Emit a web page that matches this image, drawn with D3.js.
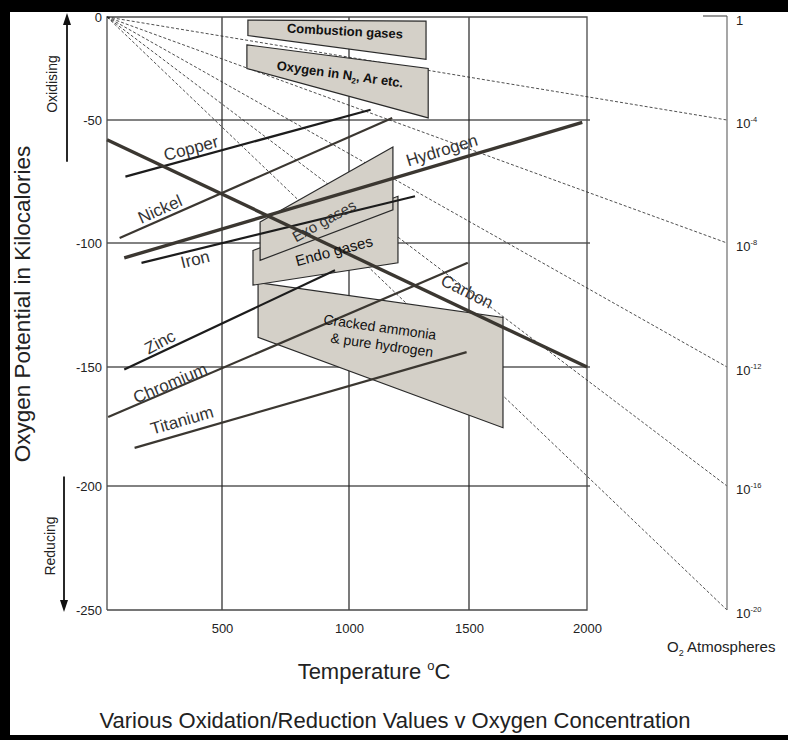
<!DOCTYPE html>
<html>
<head>
<meta charset="utf-8">
<script src="https://cdn.jsdelivr.net/npm/d3@7"></script>
<style>
  body { margin: 0; background: #fff; }
  svg { display: block; font-family: Arial, 'Liberation Sans', sans-serif; }
</style>
</head>
<body>
<div id="chart"></div>
<script>
// temperature (degC) and oxygen potential (kcal) ticks
const temperatureTicks = [0, 500, 1000, 1500, 2000];
const potentialTicks = [0, -50, -100, -150, -200, -250];
// O2 partial pressure exponents on the right hand scale (10^n atm)
const o2Exponents = [0, -4, -8, -12, -16, -20];

// metal / oxide lines: [temperature, kcal] at each end
const elementNames = ['Copper', 'Nickel', 'Hydrogen', 'Iron', 'Carbon', 'Zinc', 'Chromium', 'Titanium'];
const elementStart = [[80, -73], [55, -98], [75, -106], [150, -108], [0, -58], [75, -151], [5, -171], [120, -184]];
const elementEnd = [[1090, -45], [1180, -49], [1980, -51], [1275, -81], [2000, -150], [945, -111], [1495, -108], [1490, -144]];

// furnace atmosphere bands (corners in temperature, kcal)
const atmosphereNames = ['Combustion gases', 'Oxygen in N2, Ar etc.', 'Cracked ammonia & pure hydrogen', 'Endo gases', 'Exo gases'];
const atmosphereBands = [
  [[602, -1.5], [1321, -2], [1321, -20.5], [602, -9]],
  [[598, -13.5], [1330, -25], [1330, -49], [598, -25]],
  [[642, -116], [1644, -130], [1644, -175.5], [642, -138]],
  [[622, -103], [1204, -81], [1204, -108], [622, -117]],
  [[650, -91.5], [1183, -61], [1183, -86.5], [650, -107]],
];

const SETTING = {
  width: 788,
  height: 740,
  rightAxisX: 727,
  ink: '#3b3731',
  band: '#d4d0c8',
};

// where the labels sit along the lines, in data units, with their tilt
const LINE_LABELS = {
  Copper: [365, -61.4, -15],
  Nickel: [230, -86.2, -24],
  Iron: [383, -106.5, -14],
  Hydrogen: [1387, -62.2, -17],
  Carbon: [1492, -119.5, 26],
  Zinc: [230, -139.9, -28],
  Chromium: [274, -156.7, -23],
  Titanium: [326, -172.3, -16],
};

const svg = d3.select('#chart').append('svg')
  .attr('width', SETTING.width)
  .attr('height', SETTING.height);

// hand drawn original: tick spacing is not even, so use piecewise scales
const x = d3.scaleLinear().domain(temperatureTicks).range([107, 222, 349, 469, 587]);
const y = d3.scaleLinear().domain(potentialTicks).range([17, 120, 243, 367, 486, 610]);
const o2 = d3.scaleLinear().domain([0, -20]).range([0, -250]);

const xMin = x(0);
const xMax = x(2000);
const yTop = y(0);
const yBottom = y(-250);

// black frame round the picture
svg.append('rect').attr('x', 0).attr('y', 0).attr('width', SETTING.width).attr('height', 12).attr('fill', '#000');
svg.append('rect').attr('x', 0).attr('y', 0).attr('width', 10).attr('height', SETTING.height).attr('fill', '#000');
svg.append('rect').attr('x', 0).attr('y', 735).attr('width', SETTING.width).attr('height', 5).attr('fill', '#000');

// grid
const grid = svg.append('g');
grid.selectAll('line.h')
  .data(potentialTicks.slice(1, -1))
  .enter()
  .append('line')
  .attr('x1', xMin)
  .attr('x2', xMax + 3)
  .attr('y1', (d) => y(d))
  .attr('y2', (d) => y(d))
  .attr('stroke', '#595959')
  .attr('stroke-width', 1.3);

grid.selectAll('line.v')
  .data(temperatureTicks.slice(1, -1))
  .enter()
  .append('line')
  .attr('x1', (d) => x(d))
  .attr('x2', (d) => x(d))
  .attr('y1', yTop)
  .attr('y2', yBottom)
  .attr('stroke', '#222')
  .attr('stroke-width', 1.2);

// plot frame
grid.append('path')
  .attr('d', `M${xMin},${yBottom}V${yTop}H${xMax}V${yBottom}H${xMin}`)
  .attr('fill', 'none')
  .attr('stroke', '#4a4a4a')
  .attr('stroke-width', 1.3);

// constant pO2 lines fan out from the origin to the right hand scale
svg.append('g')
  .selectAll('line')
  .data(o2Exponents.slice(1))
  .enter()
  .append('line')
  .attr('x1', x(0))
  .attr('y1', y(0))
  .attr('x2', SETTING.rightAxisX)
  .attr('y2', (d) => y(o2(d)))
  .attr('stroke', '#222')
  .attr('stroke-width', 0.8)
  .attr('stroke-dasharray', '3,2');

// right hand scale
const rightAxis = svg.append('g');
rightAxis.append('line')
  .attr('x1', SETTING.rightAxisX).attr('x2', SETTING.rightAxisX)
  .attr('y1', yTop - 1).attr('y2', yBottom)
  .attr('stroke', '#777')
  .attr('stroke-width', 1.3);
rightAxis.append('line')
  .attr('x1', SETTING.rightAxisX - 24).attr('x2', SETTING.rightAxisX)
  .attr('y1', yTop - 1).attr('y2', yTop - 1)
  .attr('stroke', '#555')
  .attr('stroke-width', 1.2);

const rightLabels = rightAxis.selectAll('text')
  .data(o2Exponents)
  .enter()
  .append('text')
  .attr('x', SETTING.rightAxisX + 9)
  .attr('y', (d) => y(o2(d)) + 8)
  .attr('font-size', 13)
  .attr('fill', '#222');
rightLabels.append('tspan').text((d) => (d === 0 ? '1' : '10'));
rightLabels.filter((d) => d !== 0)
  .append('tspan')
  .attr('dy', -6)
  .attr('font-size', 7.5)
  .text((d) => `${d}`);

svg.append('text')
  .attr('x', 667)
  .attr('y', 652)
  .attr('font-size', 15)
  .attr('fill', '#222')
  .call((t) => {
    t.append('tspan').text('O');
    t.append('tspan').attr('font-size', 9).attr('dy', 4).text('2');
    t.append('tspan').attr('dy', -4).text(' Atmospheres');
  });

// atmosphere bands
const bandLine = d3.line().x((d) => x(d[0])).y((d) => y(d[1]));
svg.append('g')
  .selectAll('path')
  .data(atmosphereBands)
  .enter()
  .append('path')
  .attr('d', (d) => `${bandLine(d)}Z`)
  .attr('fill', SETTING.band)
  .attr('stroke', '#2a2a2a')
  .attr('stroke-width', 1.2);

// element lines
svg.append('g')
  .selectAll('line')
  .data(elementNames)
  .enter()
  .append('line')
  .attr('x1', (d, i) => x(elementStart[i][0]))
  .attr('y1', (d, i) => y(elementStart[i][1]))
  .attr('x2', (d, i) => x(elementEnd[i][0]))
  .attr('y2', (d, i) => y(elementEnd[i][1]))
  .attr('stroke', (d) => (['Copper', 'Iron', 'Zinc'].includes(d) ? '#1c1c1c' : SETTING.ink))
  .attr('stroke-width', (d) => (d === 'Hydrogen' || d === 'Carbon' ? 3.4 : 2.2));

svg.append('g')
  .selectAll('text')
  .data(elementNames)
  .enter()
  .append('text')
  .attr('transform', (d) => {
    const [t, v, a] = LINE_LABELS[d];
    return `translate(${x(t)},${y(v)}) rotate(${a})`;
  })
  .attr('text-anchor', 'middle')
  .attr('dy', '0.35em')
  .attr('font-size', 17)
  .attr('fill', '#333')
  .text((d) => d);

// labels inside the bands
function bandLabel(t, v, angle, size, weight) {
  return svg.append('text')
    .attr('transform', `translate(${x(t)},${y(v)}) rotate(${angle})`)
    .attr('text-anchor', 'middle')
    .attr('dy', '0.35em')
    .attr('font-size', size)
    .attr('font-weight', weight)
    .attr('fill', '#111');
}

bandLabel(984, -6.8, 3, 13, 'bold').text(atmosphereNames[0]);
bandLabel(965, -27.7, 8, 13, 'bold').call((t) => {
  t.append('tspan').text('Oxygen in N');
  t.append('tspan').attr('font-size', 8).attr('dy', 3).text('2');
  t.append('tspan').attr('dy', -3).text(', Ar etc.');
});
bandLabel(1129, -133.9, 8, 14, 'normal').text('Cracked ammonia');
bandLabel(1137, -141.1, 8, 14, 'normal').text('& pure hydrogen');
bandLabel(941, -103.2, -15, 15, 'normal').text(atmosphereNames[3]);
bandLabel(902, -91, -29, 15, 'normal').attr('fill', '#333').text(atmosphereNames[4]);

// axes
const plain = (d) => String(d);

svg.append('g')
  .attr('transform', `translate(${xMin},0)`)
  .call(d3.axisLeft(y).tickValues(potentialTicks).tickSize(0).tickPadding(5).tickFormat(plain))
  .call((g) => g.select('.domain').remove())
  .call((g) => g.selectAll('text')
    .attr('font-family', 'Arial, "Liberation Sans", sans-serif')
    .attr('font-size', 13)
    .attr('fill', '#222'));

svg.append('g')
  .attr('transform', `translate(0,${yBottom})`)
  .call(d3.axisBottom(x).tickValues(temperatureTicks.slice(1)).tickSize(0).tickPadding(14).tickFormat(plain))
  .call((g) => g.select('.domain').remove())
  .call((g) => g.selectAll('text')
    .attr('font-family', 'Arial, "Liberation Sans", sans-serif')
    .attr('font-size', 13)
    .attr('fill', '#222'));

// axis titles
svg.append('text')
  .attr('transform', 'translate(30,304) rotate(-90)')
  .attr('text-anchor', 'middle')
  .attr('font-size', 22.5)
  .attr('fill', '#222')
  .text('Oxygen Potential in Kilocalories');

svg.append('text')
  .attr('x', 374)
  .attr('y', 679)
  .attr('text-anchor', 'middle')
  .attr('font-size', 22)
  .attr('fill', '#222')
  .call((t) => {
    t.append('tspan').text('Temperature ');
    t.append('tspan').attr('font-size', 13).attr('dy', -9).text('o');
    t.append('tspan').attr('dy', 9).text('C');
  });

svg.append('text')
  .attr('x', 395)
  .attr('y', 728)
  .attr('text-anchor', 'middle')
  .attr('font-size', 22)
  .attr('fill', '#222')
  .text('Various Oxidation/Reduction Values v Oxygen Concentration');

// oxidising / reducing arrows
function arrow(xPos, from, to) {
  const dir = Math.sign(to - from);
  svg.append('line')
    .attr('x1', xPos).attr('x2', xPos)
    .attr('y1', from).attr('y2', to - dir * 10)
    .attr('stroke', '#111')
    .attr('stroke-width', 1.8);
  svg.append('path')
    .attr('d', `M${xPos - 4},${to - dir * 12}L${xPos + 4},${to - dir * 12}L${xPos},${to}Z`)
    .attr('fill', '#111');
}

arrow(67, y(-67), y(0) - 4);
arrow(64, y(-196), y(-250) + 2);

svg.append('text')
  .attr('transform', 'translate(57,84) rotate(-90)')
  .attr('text-anchor', 'middle')
  .attr('font-size', 14)
  .attr('fill', '#222')
  .text('Oxidising');

svg.append('text')
  .attr('transform', 'translate(55,546) rotate(-90)')
  .attr('text-anchor', 'middle')
  .attr('font-size', 14)
  .attr('fill', '#222')
  .text('Reducing');
</script>
</body>
</html>
